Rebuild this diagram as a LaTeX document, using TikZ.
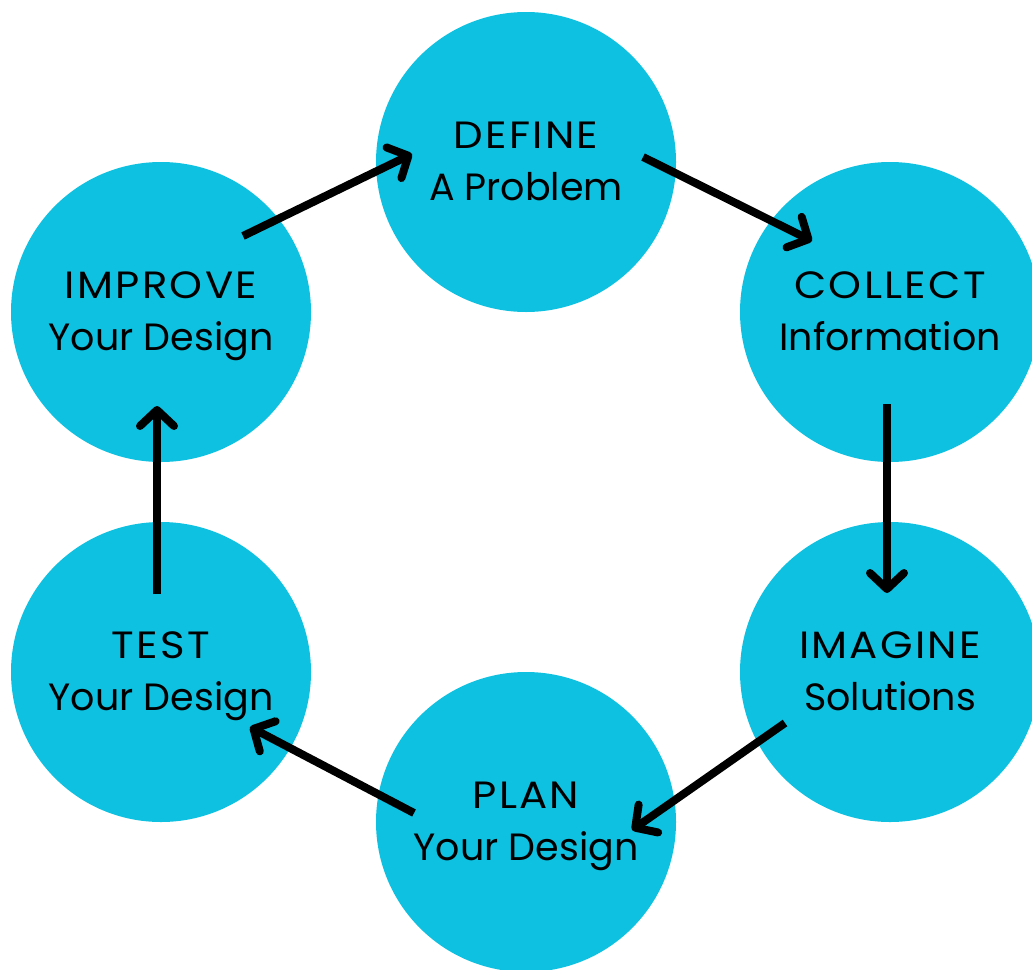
\documentclass[tikz,border=0pt]{standalone}
\usepackage{fontspec}
\setmainfont{Poppins}
\usetikzlibrary{arrows.meta}
\definecolor{stepcyan}{HTML}{0FC1E0}
\begin{document}
\begin{tikzpicture}[x=1pt,y=-1pt,
  stage/.style={circle, fill=stepcyan, draw=none, minimum size=300pt, inner sep=0pt},
  title/.style={anchor=base, inner sep=0pt,
    font=\fontsize{38}{44}\selectfont\addfontfeatures{FakeStretch=1.1,LetterSpace=6}},
  subtitle/.style={anchor=base, inner sep=0pt, font=\fontsize{38}{44}\selectfont},
  flow/.style={line width=8pt, -{Straight Barb[length=16pt, width=34pt, round]}}]
  \useasboundingbox (0,0) rectangle (1032,969);

  % stages of the cycle
  \node[stage] (define)  at (526,162) {};
  \node[stage] (collect) at (890,312) {};
  \node[stage] (imagine) at (890,672) {};
  \node[stage] (plan)    at (526,822) {};
  \node[stage] (test)    at (161,672) {};
  \node[stage] (improve) at (161,312) {};

  % two-line captions, baselines set from each stage centre
  \node[title]    (define-a)  at ([yshift=13.5pt]define.center)   {DEFINE};
  \node[subtitle] (define-b)  at ([yshift=-38.5pt]define.center)  {A Problem};
  \node[title]    (collect-a) at ([yshift=13.5pt]collect.center)  {COLLECT};
  \node[subtitle] (collect-b) at ([yshift=-38.5pt]collect.center) {Information};
  \node[title]    (imagine-a) at ([yshift=13.5pt]imagine.center)  {IMAGINE};
  \node[subtitle] (imagine-b) at ([yshift=-38.5pt]imagine.center) {Solutions};
  \node[title]    (plan-a)    at ([yshift=13.5pt]plan.center)     {PLAN};
  \node[subtitle] (plan-b)    at ([yshift=-38.5pt]plan.center)    {Your Design};
  \node[title]    (test-a)    at ([yshift=13.5pt]test.center)     {TEST};
  \node[subtitle] (test-b)    at ([yshift=-38.5pt]test.center)    {Your Design};
  \node[title]    (improve-a) at ([yshift=13.5pt]improve.center)  {IMPROVE};
  \node[subtitle] (improve-b) at ([yshift=-38.5pt]improve.center) {Your Design};

  % arrow end points
  \coordinate (improve-out) at (243,236);
  \coordinate (define-in)   at (412,154);
  \coordinate (define-out)  at (643,157);
  \coordinate (collect-in)  at (812,241);
  \coordinate (collect-out) at (887,404);
  \coordinate (imagine-in)  at (887,593);
  \coordinate (imagine-out) at (785,723);
  \coordinate (plan-in)     at (632,830);
  \coordinate (plan-out)    at (414,813);
  \coordinate (test-in)     at (250,727);
  \coordinate (test-out)    at (157,594);
  \coordinate (improve-in)  at (157,406);

  \draw[flow] (improve-out) -- (define-in);
  \draw[flow] (define-out)  -- (collect-in);
  \draw[flow] (collect-out) -- (imagine-in);
  \draw[flow] (imagine-out) -- (plan-in);
  \draw[flow] (plan-out)    -- (test-in);
  \draw[flow] (test-out)    -- (improve-in);
\end{tikzpicture}
\end{document}
